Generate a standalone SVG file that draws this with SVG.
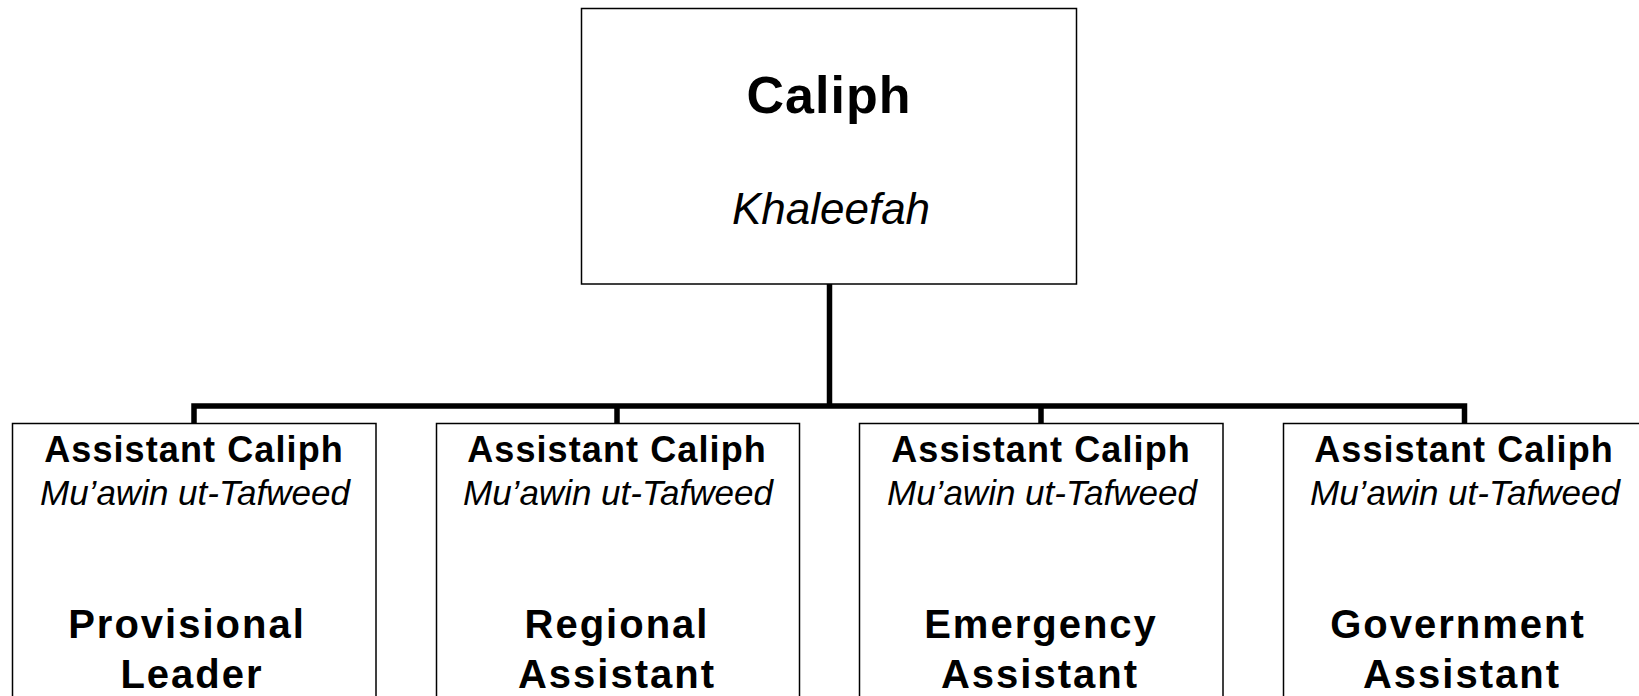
<svg xmlns="http://www.w3.org/2000/svg" width="1639" height="696" viewBox="0 0 1639 696">
<style>
.box{fill:#fff;stroke:#000;stroke-width:1.5}
.conn{fill:none;stroke:#000;stroke-width:5.5;stroke-linejoin:miter;stroke-linecap:butt}
text{font-family:"Liberation Sans",Arial,sans-serif;fill:#000;text-anchor:middle}
.t1{font-weight:bold;font-size:36px;letter-spacing:1.1px}
.t2{font-style:italic;font-size:35px}
.t3{font-weight:bold;font-size:40px;letter-spacing:2px}
</style>
<rect x="0" y="0" width="1639" height="696" fill="#fff"/>
<g id="connectors">
<path class="conn" d="M829.5 284 V406"/>
<path class="conn" d="M194 423 V406 H1464.5 V423"/>
<path class="conn" d="M617 406 V423"/>
<path class="conn" d="M1041 406 V423"/>
</g>
<g id="caliph">
<rect class="box" x="581.5" y="8.5" width="495" height="275.5"/>
<text x="829" y="113" style="font-weight:bold;font-size:52px;letter-spacing:1px">Caliph</text>
<text x="831" y="224" style="font-style:italic;font-size:44px">Khaleefah</text>
</g>
<g id="provisional">
<rect class="box" x="12.5" y="423.5" width="363.5" height="320"/>
<text class="t1" x="194" y="462">Assistant Caliph</text>
<text class="t2" x="195" y="505">Mu’awin ut-Tafweed</text>
<text class="t3" x="187" y="638">Provisional</text>
<text class="t3" x="192" y="688">Leader</text>
</g>
<g id="regional">
<rect class="box" x="436.5" y="423.5" width="363" height="320"/>
<text class="t1" x="617" y="462">Assistant Caliph</text>
<text class="t2" x="618" y="505">Mu’awin ut-Tafweed</text>
<text class="t3" x="617" y="638">Regional</text>
<text class="t3" x="617" y="688">Assistant</text>
</g>
<g id="emergency">
<rect class="box" x="859.5" y="423.5" width="363.5" height="320"/>
<text class="t1" x="1041" y="462">Assistant Caliph</text>
<text class="t2" x="1042" y="505">Mu’awin ut-Tafweed</text>
<text class="t3" x="1041" y="638">Emergency</text>
<text class="t3" x="1040" y="688">Assistant</text>
</g>
<g id="government">
<rect class="box" x="1283.5" y="423.5" width="364" height="320"/>
<text class="t1" x="1464" y="462">Assistant Caliph</text>
<text class="t2" x="1465" y="505">Mu’awin ut-Tafweed</text>
<text class="t3" x="1458" y="638">Government</text>
<text class="t3" x="1462" y="688">Assistant</text>
</g>
</svg>
